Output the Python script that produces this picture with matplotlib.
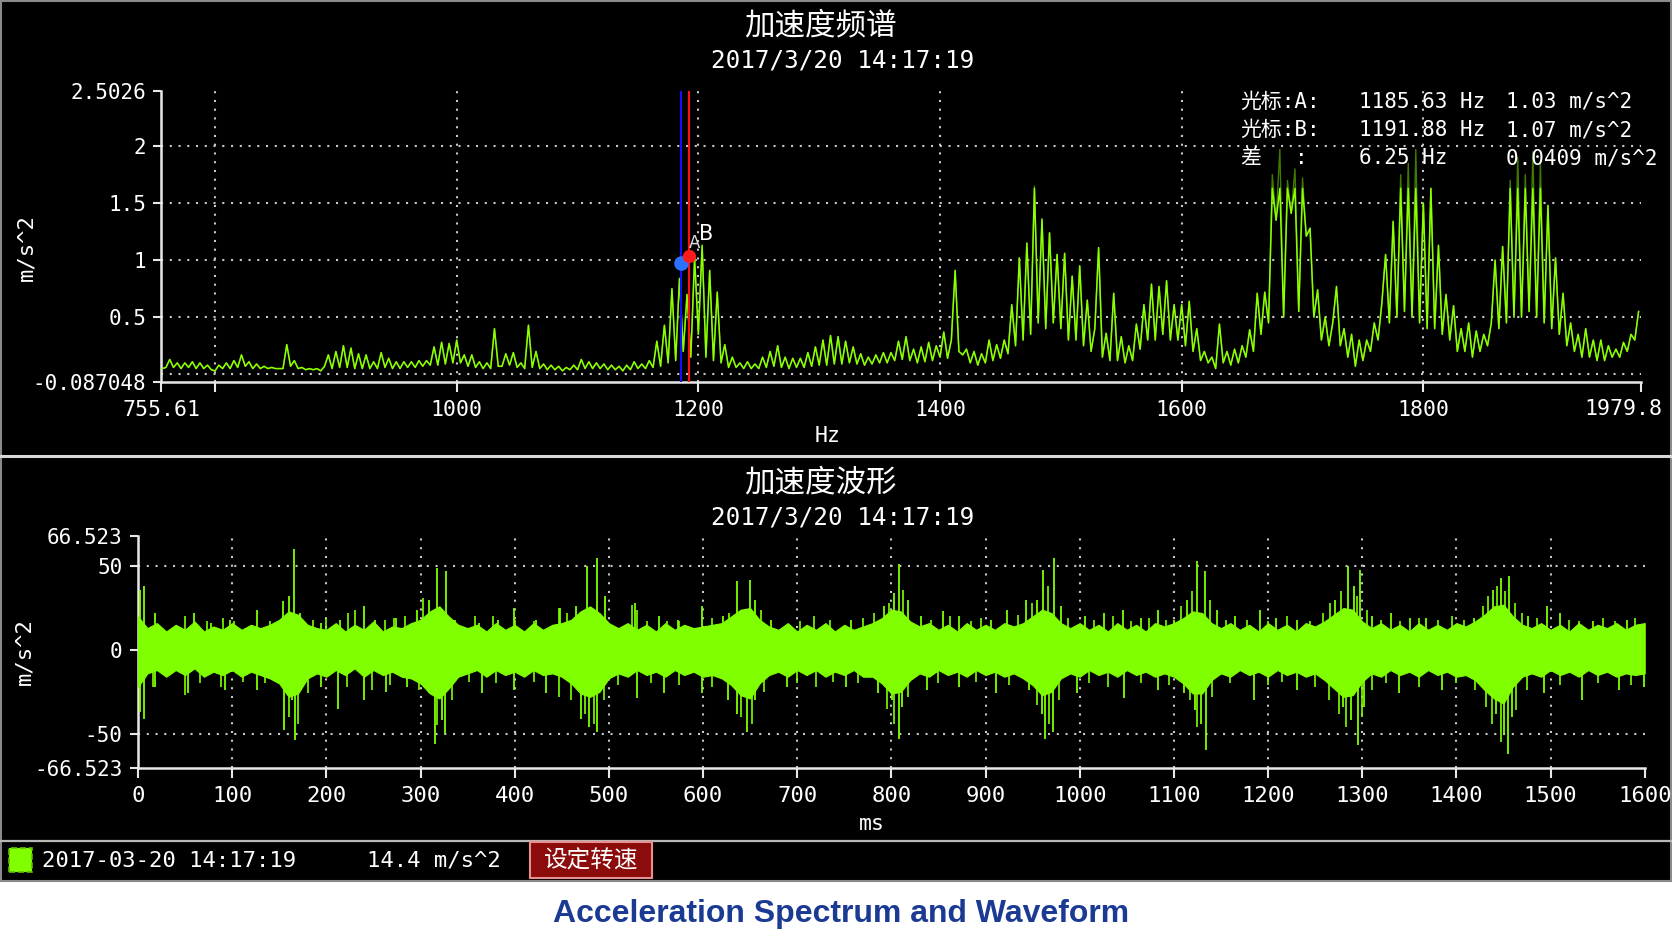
import numpy as np
import matplotlib
matplotlib.use("Agg")
import matplotlib.pyplot as plt
from matplotlib.patches import Rectangle
from matplotlib.lines import Line2D

plt.rcParams['axes.unicode_minus'] = False
MONO = ['DejaVu Sans Mono', 'Noto Sans CJK SC']
CJK = ['Noto Sans CJK SC', 'DejaVu Sans']
plt.rcParams['font.family'] = MONO

# ---------------- data ----------------
# acceleration spectrum, amplitudes (m/s^2) on a 3.125 Hz grid starting at 756.25 Hz
spec_f0 = 756.25
spec_df = 3.125
spec_amp = [
    0.05, 0.06, 0.13, 0.06, 0.10, 0.05, 0.10, 0.06,   # 756.25
    0.11, 0.05, 0.10, 0.05, 0.08, 0.04, 0.03, 0.08,   # 781.25
    0.05, 0.10, 0.05, 0.12, 0.06, 0.17, 0.07, 0.11,   # 806.25
    0.05, 0.09, 0.05, 0.07, 0.05, 0.06, 0.05, 0.05,   # 831.25
    0.05, 0.26, 0.07, 0.12, 0.05, 0.06, 0.04, 0.05,   # 856.25
    0.04, 0.05, 0.03, 0.07, 0.17, 0.05, 0.20, 0.06,   # 881.25
    0.25, 0.06, 0.23, 0.05, 0.18, 0.05, 0.17, 0.05,   # 906.25
    0.11, 0.05, 0.19, 0.06, 0.14, 0.05, 0.11, 0.05,   # 931.25
    0.11, 0.06, 0.11, 0.06, 0.12, 0.07, 0.12, 0.08,   # 956.25
    0.24, 0.08, 0.28, 0.09, 0.27, 0.10, 0.30, 0.10,   # 981.25
    0.17, 0.07, 0.17, 0.06, 0.11, 0.05, 0.10, 0.05,   # 1006.25
    0.40, 0.07, 0.07, 0.18, 0.08, 0.19, 0.06, 0.10,   # 1031.25
    0.05, 0.43, 0.06, 0.20, 0.05, 0.09, 0.04, 0.08,   # 1056.25
    0.04, 0.07, 0.03, 0.06, 0.04, 0.08, 0.04, 0.13,   # 1081.25
    0.05, 0.11, 0.05, 0.10, 0.05, 0.09, 0.04, 0.08,   # 1106.25
    0.04, 0.07, 0.03, 0.08, 0.04, 0.11, 0.05, 0.09,   # 1131.25
    0.05, 0.12, 0.06, 0.29, 0.07, 0.43, 0.10, 0.75,   # 1156.25
    0.12, 0.84, 0.20, 0.70, 0.15, 1.02, 0.35, 1.13,   # 1181.25
    0.15, 0.91, 0.12, 0.72, 0.10, 0.26, 0.06, 0.15,   # 1206.25
    0.06, 0.10, 0.05, 0.11, 0.05, 0.09, 0.05, 0.15,   # 1231.25
    0.06, 0.20, 0.07, 0.25, 0.06, 0.15, 0.05, 0.14,   # 1256.25
    0.06, 0.14, 0.06, 0.19, 0.07, 0.24, 0.08, 0.30,   # 1281.25
    0.08, 0.34, 0.09, 0.33, 0.09, 0.29, 0.10, 0.24,   # 1306.25
    0.09, 0.18, 0.08, 0.15, 0.09, 0.17, 0.10, 0.19,   # 1331.25
    0.10, 0.19, 0.12, 0.29, 0.13, 0.33, 0.12, 0.22,   # 1356.25
    0.10, 0.24, 0.11, 0.28, 0.12, 0.25, 0.15, 0.37,   # 1381.25
    0.14, 0.30, 0.91, 0.20, 0.17, 0.22, 0.10, 0.20,   # 1406.25
    0.08, 0.18, 0.10, 0.30, 0.12, 0.26, 0.14, 0.30,   # 1431.25
    0.18, 0.61, 0.25, 1.02, 0.30, 1.15, 0.35, 1.65,   # 1456.25
    0.45, 1.36, 0.40, 1.24, 0.45, 1.05, 0.40, 1.06,   # 1481.25
    0.30, 0.86, 0.30, 0.95, 0.25, 0.65, 0.20, 0.40,   # 1506.25
    1.11, 0.15, 0.36, 0.12, 0.71, 0.12, 0.33, 0.10,   # 1531.25
    0.25, 0.12, 0.44, 0.22, 0.61, 0.30, 0.79, 0.30,   # 1556.25
    0.77, 0.35, 0.82, 0.30, 0.61, 0.30, 0.61, 0.25,   # 1581.25
    0.64, 0.20, 0.40, 0.12, 0.20, 0.10, 0.15, 0.05,   # 1606.25
    0.44, 0.10, 0.20, 0.08, 0.22, 0.10, 0.25, 0.15,   # 1631.25
    0.39, 0.20, 0.71, 0.35, 0.72, 0.45, 1.75, 1.35,   # 1656.25
    1.97, 0.50, 1.70, 1.41, 1.80, 0.55, 1.72, 1.21,   # 1681.25
    1.28, 0.50, 0.74, 0.30, 0.50, 0.25, 0.45, 0.77,   # 1706.25
    0.25, 0.40, 0.15, 0.35, 0.07, 0.30, 0.12, 0.30,   # 1731.25
    0.20, 0.45, 0.30, 0.62, 1.05, 0.45, 1.34, 0.50,   # 1756.25
    1.75, 0.55, 1.85, 0.50, 1.97, 0.45, 1.50, 0.40,   # 1781.25
    1.63, 0.40, 1.13, 0.35, 0.70, 0.30, 0.60, 0.20,   # 1806.25
    0.40, 0.20, 0.45, 0.15, 0.38, 0.20, 0.35, 0.25,   # 1831.25
    0.45, 1.00, 0.40, 1.12, 0.45, 1.70, 0.50, 1.90,   # 1856.25
    0.50, 1.75, 0.55, 1.95, 0.50, 1.85, 0.45, 1.48,   # 1881.25
    0.40, 1.02, 0.35, 0.71, 0.25, 0.45, 0.20, 0.35,   # 1906.25
    0.15, 0.40, 0.15, 0.30, 0.12, 0.30, 0.12, 0.25,   # 1931.25
    0.15, 0.22, 0.15, 0.28, 0.20, 0.35, 0.30, 0.55,   # 1956.25
]
spec_clip = 1.63            # level where the bright trace is cut off
spec_xlim = (755.61, 1979.8)
spec_xticks = [755.61, 800, 1000, 1200, 1400, 1600, 1800, 1979.8]
spec_xticklabels = ['755.61', '', '1000', '1200', '1400', '1600', '1800', '']
spec_last_label = '1979.8'
spec_ylim = (-0.065, 2.485)
spec_yticks = [-0.065, 0.5, 1, 1.5, 2, 2.485]
spec_yticklabels = ['-0.087048', '0.5', '1', '1.5', '2', '2.5026']
spec_hgrid = [0, 0.5, 1, 1.5, 2]
spec_vgrid = [800, 1000, 1200, 1400, 1600, 1800]

cursor_a = (1185.63, 0.978)
cursor_b = (1191.88, 1.037)
cursor_rows = [
    ('光标:A:', '1185.63 Hz', '1.03 m/s^2'),
    ('光标:B:', '1191.88 Hz', '1.07 m/s^2'),
    ('差', '6.25 Hz', '0.0409 m/s^2'),
]

# acceleration waveform: envelope of the dense band every 10 ms
band_t0, band_dt = 0, 10
band_hi = [
    20, 13, 16, 11, 15, 12, 17, 11, 14, 12,
    16, 12, 15, 13, 15, 18, 23, 21, 15, 13,
    12, 16, 11, 15, 12, 17, 11, 14, 13, 16,
    18, 23, 26, 20, 15, 13, 15, 11, 16, 12,
    15, 11, 16, 12, 15, 16, 18, 23, 26, 22,
    16, 13, 16, 12, 15, 11, 16, 12, 15, 13,
    14, 15, 16, 20, 24, 25, 18, 14, 12, 16,
    11, 15, 12, 16, 11, 15, 12, 14, 16, 19,
    24, 23, 17, 14, 16, 12, 15, 11, 16, 12,
    15, 12, 16, 14, 16, 20, 24, 22, 16, 13,
    16, 12, 15, 11, 16, 12, 15, 11, 16, 14,
    16, 19, 23, 22, 16, 13, 16, 12, 15, 11,
    16, 12, 15, 11, 16, 14, 17, 21, 25, 24,
    17, 13, 16, 12, 15, 11, 16, 12, 15, 12,
    16, 14, 17, 21, 26, 27, 20, 15, 13, 16,
    12, 15, 11, 16, 12, 15, 13, 16, 12, 15,
    16,
]
band_lo = [
    -22, -14, -12, -16, -12, -15, -11, -16, -13, -15,
    -12, -16, -13, -15, -17, -20, -28, -26, -17, -14,
    -16, -12, -15, -11, -16, -12, -15, -13, -16, -17,
    -20, -26, -29, -23, -16, -14, -12, -16, -12, -15,
    -13, -16, -12, -15, -14, -16, -20, -26, -28, -25,
    -17, -14, -16, -12, -15, -13, -16, -12, -15, -13,
    -16, -15, -17, -21, -27, -29, -20, -15, -13, -16,
    -12, -15, -12, -16, -13, -15, -12, -16, -16, -20,
    -26, -25, -18, -14, -16, -12, -15, -13, -16, -12,
    -15, -13, -16, -14, -17, -21, -27, -25, -17, -14,
    -16, -12, -15, -13, -16, -12, -15, -13, -16, -14,
    -16, -20, -26, -26, -18, -14, -16, -12, -15, -13,
    -16, -12, -15, -13, -16, -14, -18, -23, -28, -27,
    -19, -14, -16, -12, -15, -13, -16, -12, -15, -13,
    -16, -15, -18, -24, -29, -32, -22, -16, -14, -16,
    -12, -15, -13, -16, -12, -15, -13, -16, -14, -15,
    -14,
]
# tall individual spikes (ms, m/s^2)
up_t = [2.5, 5.9, 18.4, 59.4, 78, 98, 126.5, 153.8, 160.6, 165.2,
        172, 194.8, 214.6, 240.3, 251.6, 274.4, 296, 308.5, 317, 326.7,
        337, 362.5, 382.4, 399.5, 422.2, 447.8, 464.9, 476.3, 487.6, 496.1,
        527.4, 553, 573, 598.6, 621.3, 635.6, 649.8, 655.4, 672.5, 689.6,
        757.6, 791.8, 803, 807.8, 817.5, 831.8, 854.6, 871.7, 905.9, 923,
        943, 954.4, 961.2, 972.6, 980, 1005.7, 1025.6, 1045.6, 1065.6, 1082.7,
        1099.8, 1114, 1124.3, 1132.9, 1145.4, 1165.4, 1191, 1208, 1231, 1271,
        1285.1, 1290.8, 1298.2, 1310.8, 1330.8, 1350.7, 1367.8, 1419.1, 1439, 1447.6,
        1456.2, 1476.2, 1496.1, 1510.4, 1544.6, 1581.7, 1598.8]
up_v = [36, 38, 22, 22, 16, 18, 24, 29, 32, 60,
        22, 16, 18, 26, 18, 19, 24, 30, 49, 47,
        18, 16, 18, 25, 18, 25, 26, 50, 55, 32,
        28, 20, 18, 26, 20, 41, 42, 30, 18, 15,
        18, 26, 34, 51, 30, 20, 23, 20, 18, 24,
        30, 30, 48, 55, 26, 20, 22, 24, 19, 24,
        18, 30, 53, 47, 24, 20, 24, 19, 18, 30,
        50, 38, 48, 20, 22, 19, 19, 19, 36, 43,
        44, 20, 26, 22, 17, 18, 15]
dn_t = [2.5, 5.9, 18.4, 52.6, 92.5, 126.5, 155, 163.5, 166.3, 194.8,
        211.9, 240.3, 263.1, 285.9, 308.5, 315.3, 322.6, 325.6, 365.4, 399.5,
        433.6, 470.6, 479.1, 487.6, 530.3, 558.7, 598.6, 627, 635.6, 647,
        655.4, 689.6, 751.9, 786.1, 800.4, 807.8, 811.8, 837.5, 871.7, 911.6,
        945.8, 960, 962.9, 971.4, 997.2, 1047.3, 1082.7, 1111.2, 1122.6, 1128.3,
        1134, 1185.4, 1231, 1279.5, 1288, 1295.4, 1302.2, 1339.3, 1384.9, 1441.9,
        1450.5, 1454.5, 1459, 1493.3, 1533.2, 1573.1, 1598.8]
dn_v = [-37, -41, -22, -26, -24, -24, -48, -30, -54, -22,
        -35, -30, -25, -22, -26, -56, -42, -50, -26, -24,
        -26, -41, -46, -49, -29, -26, -26, -30, -38, -49,
        -30, -22, -22, -26, -30, -53, -34, -24, -22, -26,
        -24, -38, -53, -49, -26, -29, -24, -26, -36, -44,
        -60, -30, -24, -34, -42, -57, -34, -26, -24, -38,
        -50, -62, -40, -26, -30, -24, -22]
# smaller fringe spikes around the band
fr_up_t = [50, 73, 90, 101.5, 140, 186, 200, 223, 230.4, 262,
           272, 284, 302.5, 357.5, 376.5, 400.3, 420, 446.6, 456, 524.5,
           530, 540, 562, 575, 610, 628, 662, 703, 718, 735,
           770, 782, 798, 812, 842, 862, 885, 895, 935, 949,
           966, 988, 1015, 1035, 1055, 1074, 1092, 1108, 1119, 1138,
           1155, 1178, 1200, 1220, 1245, 1258, 1266, 1278, 1295, 1305,
           1320, 1340, 1360, 1380, 1395, 1408, 1428, 1434, 1443, 1452,
           1462, 1470, 1486, 1520, 1530, 1556, 1568, 1590]
fr_up_v = [20, 17, 19, 17, 17, 18, 19, 22, 24, 18,
           19, 20, 31, 20, 20, 18, 17, 25, 22, 27,
           24, 17, 17, 17, 19, 22, 24, 17, 20, 18,
           19, 22, 28, 36, 18, 20, 17, 19, 21, 28,
           38, 19, 18, 20, 17, 19, 18, 26, 35, 30,
           18, 18, 17, 20, 17, 22, 28, 35, 32, 24,
           18, 17, 19, 18, 20, 18, 26, 32, 38, 35,
           28, 22, 19, 18, 17, 19, 17, 19]
fr_dn_t = [16, 50, 66, 88, 112, 135, 160, 170, 180, 222,
           248, 268, 298, 318, 333, 352, 380, 420, 446.6, 460,
           475, 484, 495, 510, 545, 575, 610, 640, 652, 665,
           700, 720, 738, 765, 795, 803, 818, 850, 890, 925,
           955, 967, 978, 1010, 1030, 1065, 1095, 1117, 1125, 1140,
           1160, 1200, 1215, 1250, 1265, 1275, 1283, 1300, 1310, 1325,
           1360, 1400, 1420, 1432, 1438, 1447, 1463, 1475, 1510, 1550,
           1585]
fr_dn_v = [-22, -27, -20, -22, -19, -20, -40, -44, -26, -22,
           -24, -21, -24, -45, -30, -19, -20, -19, -28, -30,
           -38, -44, -30, -21, -20, -21, -22, -40, -44, -25,
           -20, -22, -19, -20, -35, -44, -28, -20, -19, -21,
           -33, -44, -30, -20, -22, -20, -21, -30, -46, -28,
           -20, -21, -19, -22, -30, -38, -46, -40, -24, -20,
           -22, -20, -24, -34, -44, -55, -36, -24, -21, -20,
           -21]
wave_xlim = (0, 1600)
wave_xticks = list(range(0, 1601, 100))
wave_vgrid = list(range(100, 1501, 100))
wave_ylim = (-70.5, 68)
wave_yticks = [-70.5, -50, 0, 50, 68]
wave_yticklabels = ['-66.523', '-50', '0', '50', '66.523']
wave_hgrid = [-50, 50]

legend_time = '2017-03-20 14:17:19'
legend_rms = '14.4 m/s^2'
button_text = '设定转速'
date_text = '2017/3/20 14:17:19'
title_spec = '加速度频谱'
title_wave = '加速度波形'
caption = 'Acceleration Spectrum and Waveform'

# ---------------- figure ----------------
W, H = 1672, 941
fig = plt.figure(figsize=(W / 100, H / 100), dpi=100, facecolor='white')


def fx(x):
    return x / W


def fy(y):
    return 1 - y / H


fig.patches.append(Rectangle((0.0005, fy(881)), 0.999, 881 / H - 0.001, transform=fig.transFigure,
                             facecolor='black', edgecolor='#8a8a8a', lw=1.5, zorder=-5))
fig.add_artist(Line2D([0, 1], [fy(456), fy(456)], color='#d8d8d8', lw=2.2, zorder=-4))
fig.add_artist(Line2D([0, 1], [fy(841), fy(841)], color='#b8b8b8', lw=1.6, zorder=-4))

GREEN_S = '#8cff00'
GREEN_W = '#80ff00'
GRID = dict(color='#c8c8c8', lw=1.5, ls=(0, (1.0, 3.2)), zorder=1)


def style_axes(ax, xlabsize, ylabsize, xpad):
    ax.set_facecolor('black')
    for s in ('top', 'right'):
        ax.spines[s].set_visible(False)
    for s in ('left', 'bottom'):
        ax.spines[s].set_color('#e8e8e8')
        ax.spines[s].set_linewidth(1.8)
    ax.tick_params(axis='x', direction='out', length=7, width=1.5, colors='#e8e8e8',
                   labelsize=xlabsize, pad=xpad, labelcolor='white')
    ax.tick_params(axis='y', direction='out', length=6, width=1.5, colors='#e8e8e8',
                   labelsize=ylabsize, pad=5, labelcolor='white')


# ---- spectrum ----
ax1 = fig.add_axes([161.4 / W, fy(381.7), (1640.6 - 161.4) / W, (381.7 - 90.7) / H])
style_axes(ax1, 15.5, 15, 6.5)
spec_freq = spec_f0 + spec_df * np.arange(len(spec_amp))
amp = np.array(spec_amp)
ax1.plot(spec_freq, amp, color='#3f7a00', lw=1.0, zorder=2)
ax1.plot(spec_freq, np.minimum(amp, spec_clip), color=GREEN_S, lw=1.1, zorder=3)
for v in spec_vgrid:
    ax1.axvline(v, **GRID)
for h in spec_hgrid:
    ax1.axhline(h, **GRID)
ax1.set_xlim(*spec_xlim)
ax1.set_ylim(*spec_ylim)
ax1.set_xticks(spec_xticks)
ax1.set_xticklabels(spec_xticklabels)
ax1.set_yticks(spec_yticks)
ax1.set_yticklabels(spec_yticklabels)
ax1.annotate(spec_last_label, xy=(spec_xlim[1], 0), xycoords=('data', 'axes fraction'),
             xytext=(-12.5, -19.5), textcoords='offset points', ha='center', va='center',
             fontsize=15.5, color='white', annotation_clip=False)
ax1.axvline(cursor_a[0], color='#1010ff', lw=1.5, zorder=4)
ax1.axvline(cursor_b[0], color='#ff1010', lw=1.5, zorder=4)
ax1.plot(*cursor_a, 'o', ms=9.5, color='#2a72ff', zorder=5)
ax1.plot(*cursor_b, 'o', ms=8.5, color='#ff1a1a', zorder=5)
ax1.text(1196.5, 1.15, 'A', color='#dddddd', fontsize=12, ha='center', va='center',
         family=['DejaVu Sans'], zorder=6)
ax1.text(1206.5, 1.23, 'B', color='white', fontsize=15, ha='center', va='center',
         family=['DejaVu Sans'], zorder=6)

# ---- waveform ----
ax2 = fig.add_axes([138 / W, fy(768), 1506.7 / W, 232 / H])
style_axes(ax2, 16, 15, 6)
band_t = band_t0 + band_dt * np.arange(len(band_hi))
ax2.fill_between(band_t, band_lo, band_hi, color=GREEN_W, lw=0.8, zorder=3)
ax2.vlines(fr_up_t, 0, fr_up_v, color=GREEN_W, lw=1.2, zorder=3)
ax2.vlines(fr_dn_t, fr_dn_v, 0, color=GREEN_W, lw=1.2, zorder=3)
ax2.vlines(up_t, 0, up_v, color=GREEN_W, lw=1.3, zorder=3)
ax2.vlines(dn_t, dn_v, 0, color=GREEN_W, lw=1.3, zorder=3)
for v in wave_vgrid:
    ax2.axvline(v, **GRID)
for h in wave_hgrid:
    ax2.axhline(h, **GRID)
ax2.set_xlim(*wave_xlim)
ax2.set_ylim(*wave_ylim)
ax2.set_xticks(wave_xticks)
ax2.set_xticklabels([str(t) for t in wave_xticks])
ax2.set_yticks(wave_yticks)
ax2.set_yticklabels(wave_yticklabels)

# ---- texts ----
fig.text(fx(820), fy(26), title_spec, color='white', fontsize=22, ha='center', va='center', family=CJK)
fig.text(fx(843), fy(61), date_text, color='white', fontsize=17.5, ha='center', va='center')
fig.text(fx(820), fy(482.5), title_wave, color='white', fontsize=22, ha='center', va='center', family=CJK)
fig.text(fx(843), fy(517.7), date_text, color='white', fontsize=17.5, ha='center', va='center')
fig.text(fx(26), fy(248), 'm/s^2', color='white', fontsize=16, rotation=90, ha='center', va='center')
fig.text(fx(24), fy(651.7), 'm/s^2', color='white', fontsize=16, rotation=90, ha='center', va='center')
fig.text(fx(828), fy(435.5), 'Hz', color='white', fontsize=15.5, ha='center', va='center')
fig.text(fx(871.6), fy(824), 'ms', color='white', fontsize=15.5, ha='center', va='center')

row_y = [101.7, 130, 158.3]
for (lab, fr, am), yy in zip(cursor_rows, row_y):
    fig.text(fx(1240), fy(yy), lab, color='white', fontsize=15, ha='left', va='center', zorder=6)
    fig.text(fx(1358.6), fy(yy), fr, color='white', fontsize=15, ha='left', va='center', zorder=6)
    fig.text(fx(1506), fy(yy), am, color='white', fontsize=15, ha='left', va='center', zorder=6)
fig.text(fx(1295), fy(row_y[2]), ':', color='white', fontsize=15, ha='left', va='center', zorder=6)

# ---- legend bar ----
fig.patches.append(Rectangle((fx(9), fy(872)), 23 / W, 24 / H, transform=fig.transFigure,
                             facecolor=GREEN_W, edgecolor='#5fbf00', lw=1.2, ls='--', zorder=2))
fig.text(fx(42), fy(861), legend_time, color='white', fontsize=16, ha='left', va='center')
fig.text(fx(367), fy(861), legend_rms, color='white', fontsize=16, ha='left', va='center')
fig.patches.append(Rectangle((fx(530), fy(878)), 122 / W, 36 / H, transform=fig.transFigure,
                             facecolor='#8c0c0c', edgecolor='#e89090', lw=1.5, zorder=2))
fig.text(fx(591), fy(861), button_text, color='white', fontsize=17, ha='center', va='center', family=CJK)

fig.text(fx(841), fy(914), caption, color='#1b3a93', fontsize=23, fontweight='bold',
         ha='center', va='center', family=['Liberation Sans', 'DejaVu Sans'])

fig.savefig('out.png', dpi=100, facecolor=fig.get_facecolor())
